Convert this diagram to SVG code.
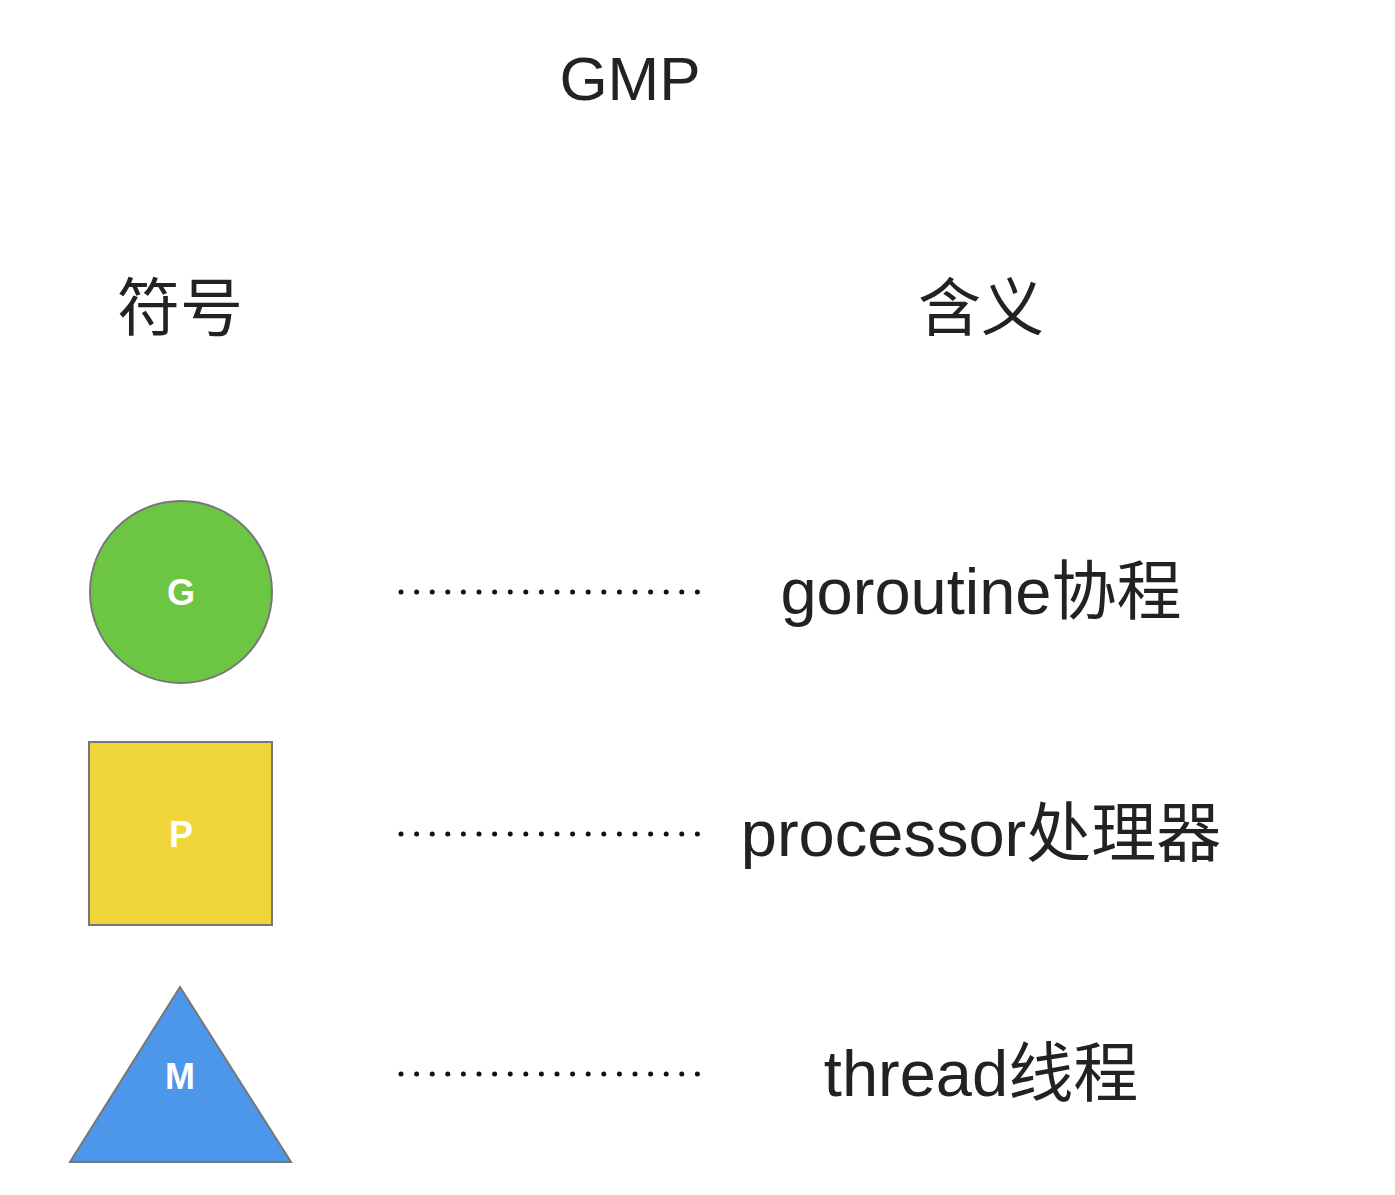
<svg xmlns="http://www.w3.org/2000/svg" width="1395" height="1195" viewBox="0 0 1395 1195">
<style>
.t{font-family:"Helvetica Neue","Liberation Sans","Noto Sans CJK SC",sans-serif;fill:#222;}
.lbl{font-family:"Liberation Sans",Arial,sans-serif;font-weight:bold;fill:#fff;font-size:36px;text-anchor:middle;}
.dot{stroke:#111;stroke-width:5;stroke-linecap:round;stroke-dasharray:0 15.6;fill:none;}
.shape{stroke:#777;stroke-width:2;}
</style>
<rect width="1395" height="1195" fill="#fff"/>
<text class="t" x="630" y="100" font-size="62" text-anchor="middle">GMP</text>
<text class="t" x="180" y="330" font-size="63" text-anchor="middle">符号</text>
<text class="t" x="981" y="330" font-size="63" text-anchor="middle">含义</text>
<g id="node-g">
<circle class="shape" cx="181" cy="592" r="91" fill="#6cc644"/>
<text class="lbl" x="181" y="605">G</text>
</g>
<g id="node-p">
<rect class="shape" x="89" y="742" width="183" height="183" fill="#f0d53a"/>
<text class="lbl" x="181" y="847">P</text>
</g>
<g id="node-m">
<polygon class="shape" points="180,987 291,1162 70,1162" fill="#4d97ea"/>
<text class="lbl" x="180" y="1089">M</text>
</g>
<g id="connectors">
<path class="dot" d="M401,592 H700"/>
<path class="dot" d="M401,834 H700"/>
<path class="dot" d="M401,1074 H700"/>
</g>
<text class="t" x="981" y="614" font-size="65" text-anchor="middle">goroutine协程</text>
<text class="t" x="981" y="856" font-size="65" text-anchor="middle">processor处理器</text>
<text class="t" x="981" y="1096" font-size="65" text-anchor="middle">thread线程</text>
</svg>
